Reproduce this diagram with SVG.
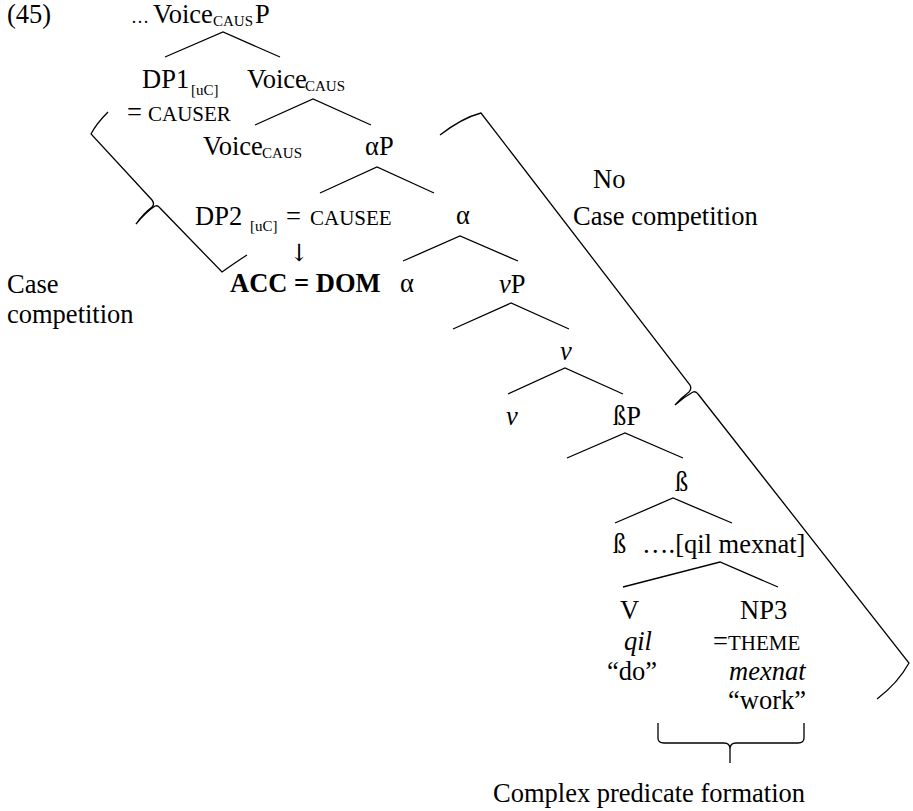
<svg xmlns="http://www.w3.org/2000/svg" width="913" height="811" viewBox="0 0 913 811">
<style>
text{font-family:"Liberation Serif","Times New Roman","DejaVu Serif",serif;font-size:26.5px;fill:#000}
.sub{font-size:15px}
.sc{font-size:21px}
.it{font-style:italic}
.b{font-weight:bold}
.ell{font-size:18px}
.ar{font-family:"DejaVu Serif","Liberation Serif",serif;font-size:24px}
line,path{stroke:#000;stroke-width:1.3;fill:none}
</style>
<rect width="913" height="811" fill="#fff"/>
<g id="labels">
<text id="ex" x="7" y="23">(45)</text>
<text id="brace-left-label"><tspan x="7" y="293">Case</tspan><tspan x="7" y="323">competition</tspan></text>
<text id="brace-right-label"><tspan x="593" y="188">No</tspan><tspan x="573" y="225">Case competition</tspan></text>
<text id="brace-bottom-label" x="493" y="802">Complex predicate formation</text>
</g>
<g id="n-voicecausp"><text><tspan class="ell" x="131" y="23">…</tspan><tspan x="153" y="23">Voice</tspan><tspan class="sub" x="213" y="26">CAUS</tspan><tspan x="255" y="23">P</tspan></text></g>
<g id="n-dp1"><text><tspan x="142" y="88">DP1</tspan><tspan class="sub" x="191" y="95">[uC]</tspan></text><text><tspan x="127" y="121">=</tspan><tspan class="sc" x="148" y="121">CAUSER</tspan></text></g>
<g id="n-voicecaus1"><text><tspan x="247" y="88">Voice</tspan><tspan class="sub" x="305" y="91">CAUS</tspan></text></g>
<g id="n-voicecaus2"><text><tspan x="203" y="155">Voice</tspan><tspan class="sub" x="262" y="158">CAUS</tspan></text></g>
<g id="n-alphap"><text x="365" y="155">αP</text></g>
<g id="n-dp2"><text><tspan x="195" y="225">DP2</tspan><tspan class="sub" x="250" y="231">[uC]</tspan><tspan x="286" y="225">=</tspan><tspan class="sc" x="310" y="225">CAUSEE</tspan></text><text class="ar" x="289" y="261">↓</text><text class="b" x="230" y="292">ACC = DOM</text></g>
<g id="n-alpha1"><text x="456" y="224">α</text></g>
<g id="n-alpha2"><text x="400" y="292">α</text></g>
<g id="n-vp"><text x="499" y="293"><tspan class="it">v</tspan>P</text></g>
<g id="n-vbar"><text class="it" x="560" y="360">v</text></g>
<g id="n-v"><text class="it" x="506" y="425">v</text></g>
<g id="n-betap"><text x="613" y="425">ßP</text></g>
<g id="n-betabar"><text x="675" y="491">ß</text></g>
<g id="n-beta"><text x="613" y="553">ß</text></g>
<g id="n-qil-mexnat"><text x="642" y="553">….[qil mexnat]</text></g>
<g id="n-V"><text x="620" y="619">V</text><text class="it" x="624" y="650">qil</text><text x="607" y="680">“do”</text></g>
<g id="n-np3"><text x="740" y="619">NP3</text><text><tspan x="713" y="650">=</tspan><tspan class="sc" x="728" y="650">THEME</tspan></text><text class="it" x="729" y="680">mexnat</text><text x="728" y="709">“work”</text></g>
<g id="connectors">
<path d="M165,57 L223,32 L280,57"/>
<path d="M255,125 L313,99 L371,125"/>
<path d="M320,193 L377,167 L434,193"/>
<path d="M403,261 L460,236 L518,261"/>
<path d="M453,329 L511,303 L569,329"/>
<path d="M508,394 L565,368 L623,394"/>
<path d="M567,458 L625,433 L683,458"/>
<path d="M615,523 L673,498 L732,523"/>
<path d="M623,587 L720,562 L778,587"/>
</g>
<g id="braces">
<path d="M108,112 Q96,124 91,134 L152,200 Q155,204 152,207 Q143,214 136,224 Q146,212 155,206 Q158,205 160,208 L222,272 Q236,262 247,255"/>
<path d="M440,135 Q462,118 481,113 L690,385 Q692,389 689,392 Q681,398 675,405 Q684,397 693,392 Q696,391 698,394 L909,663 Q898,683 877,699"/>
<path d="M658,723 L658,738 Q658,743 664,743 L724,743 Q730,743 730,749 L730,763 M730,749 Q730,743 736,743 L798,743 Q804,743 804,738 L804,723"/>
</g>
</svg>
